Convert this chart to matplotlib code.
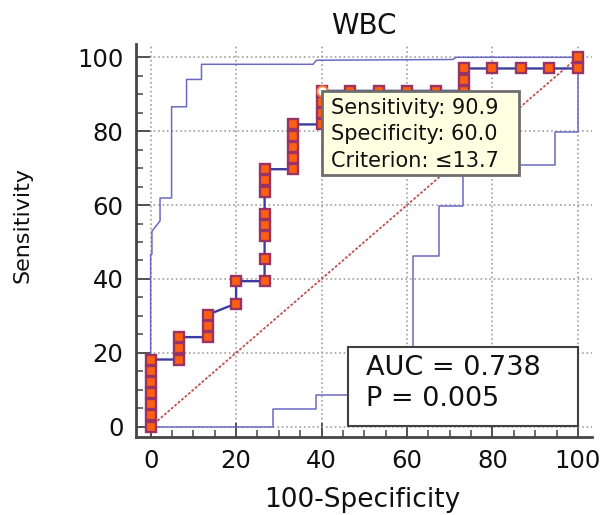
import numpy as np
import matplotlib
matplotlib.use("Agg")
import matplotlib.pyplot as plt
from matplotlib.patches import Rectangle
from matplotlib.ticker import MultipleLocator

# ROC points (100-specificity, sensitivity)
roc_x = [0, 0, 0, 0, 0, 0, 0,
         6.67, 6.67, 6.67,
         13.33, 13.33, 13.33,
         20, 20,
         26.67, 26.67, 26.67, 26.67, 26.67, 26.67, 26.67, 26.67,
         33.33, 33.33, 33.33, 33.33, 33.33,
         40, 40, 40, 40,
         46.67, 53.33, 60, 66.67,
         73.33, 73.33, 73.33,
         80, 86.67, 93.33,
         100, 100]
roc_y = [0, 3.03, 6.06, 9.09, 12.12, 15.15, 18.18,
         18.18, 21.21, 24.24,
         24.24, 27.27, 30.30,
         33.33, 39.39,
         39.39, 45.45, 51.52, 54.55, 57.58, 63.64, 66.67, 69.70,
         69.70, 72.73, 75.76, 78.79, 81.82,
         81.82, 84.85, 87.88, 90.91,
         90.91, 90.91, 90.91, 90.91,
         90.91, 93.94, 96.97,
         96.97, 96.97, 96.97,
         96.97, 100]

# 95% confidence bounds
upper_x = [0, 0, 0.3, 0.3, 2.2, 2.2, 4.9, 4.9, 8.4, 8.4, 11.9, 11.9, 38.0, 38.8, 70.7, 71.5, 100]
upper_y = [0, 46.7, 46.7, 52.9, 55.7, 61.9, 61.9, 86.6, 86.6, 94.0, 94.0, 98.1, 98.1, 99.2, 99.4, 100, 100]
lower_x = [0, 28.6, 28.6, 38.6, 38.6, 61.4, 61.4, 67.5, 67.5, 73.2, 73.2, 94.7, 94.7, 100, 100]
lower_y = [0, 0, 4.9, 4.9, 8.5, 8.5, 46.2, 46.2, 59.7, 59.7, 70.9, 70.9, 79.9, 79.9, 100]

# selected criterion
crit_x = 40.0
crit_y = 90.91
crit_lines = ["Sensitivity: 90.9", "Specificity: 60.0", "Criterion: \u226413.7"]

auc_text = "AUC = 0.738"
p_text = "P = 0.005"

ticks = [0, 20, 40, 60, 80, 100]

fig = plt.figure(figsize=(6.02, 5.15), dpi=100)
ax = fig.add_axes([0.2259, 0.1515, 0.7575, 0.7631])

ax.set_xlim(-3.43, 103.3)
ax.set_ylim(-2.79, 103.6)

# diagonal reference
ax.plot([0, 100], [0, 100], color="#c05050", linestyle=(0, (1.5, 1)), lw=1.3, zorder=2)

# confidence bounds
ax.plot(upper_x, upper_y, color="#6a6ac4", lw=1.1, zorder=2.5)
ax.plot(lower_x, lower_y, color="#6a6ac4", lw=1.1, zorder=2.5)

# roc curve
ax.plot(roc_x, roc_y, color="#3c3ca0", lw=1.7, zorder=3)
ax.plot(roc_x, roc_y, linestyle="none", marker="s", markersize=7.8,
        markerfacecolor="#ff6010", markeredgecolor="#993366", markeredgewidth=1.7, zorder=4)

# selected point
ax.plot([crit_x], [crit_y], marker="o", markersize=7.5, markerfacecolor="white",
        markeredgecolor="#ff8040", markeredgewidth=1.4, linestyle="none", zorder=5)

# tooltip box
ax.add_patch(Rectangle((crit_x, crit_y - 22.7), 46.2, 22.7, facecolor="#ffffe1",
                       edgecolor="#6e6e6e", lw=2, zorder=6))
for i, s in enumerate(crit_lines):
    ax.text(crit_x + 2.2, crit_y - 4.7 - i * 7.1, s, fontsize=15, va="center",
            ha="left", color="#101010", zorder=7)

# AUC box
ax.add_patch(Rectangle((46.2, 0.2), 53.8, 21.3, facecolor="white",
                       edgecolor="#404040", lw=1.5, zorder=6))
ax.text(50.4, 16.0, auc_text, fontsize=19.5, va="center", ha="left", color="#101010", zorder=7)
ax.text(50.4, 7.6, p_text, fontsize=19.5, va="center", ha="left", color="#101010", zorder=7)

# axes styling
for side in ["top", "right"]:
    ax.spines[side].set_visible(False)
for side in ["left", "bottom"]:
    ax.spines[side].set_linewidth(2)
    ax.spines[side].set_color("#454545")

ax.set_xticks(ticks)
ax.set_yticks(ticks)
ax.xaxis.set_minor_locator(MultipleLocator(5))
ax.yaxis.set_minor_locator(MultipleLocator(5))
ax.tick_params(which="major", direction="in", length=10, width=1.3, color="#454545",
               labelsize=17.5, pad=9, labelcolor="#101010")
ax.tick_params(which="minor", direction="in", length=5, width=1.1, color="#454545")

ax.grid(True, which="major", linestyle=":", color="#a0a0a0", lw=1.2)
ax.set_axisbelow(True)

ax.set_title("WBC", fontsize=20, pad=7, color="#101010")
ax.set_xlabel("100-Specificity", fontsize=19, color="#101010")
ax.set_ylabel("Sensitivity", fontsize=16, color="#101010")
ax.xaxis.set_label_coords(0.496, -0.128)
ax.yaxis.set_label_coords(-0.226, 0.539)

fig.savefig("out.png", dpi=100)
